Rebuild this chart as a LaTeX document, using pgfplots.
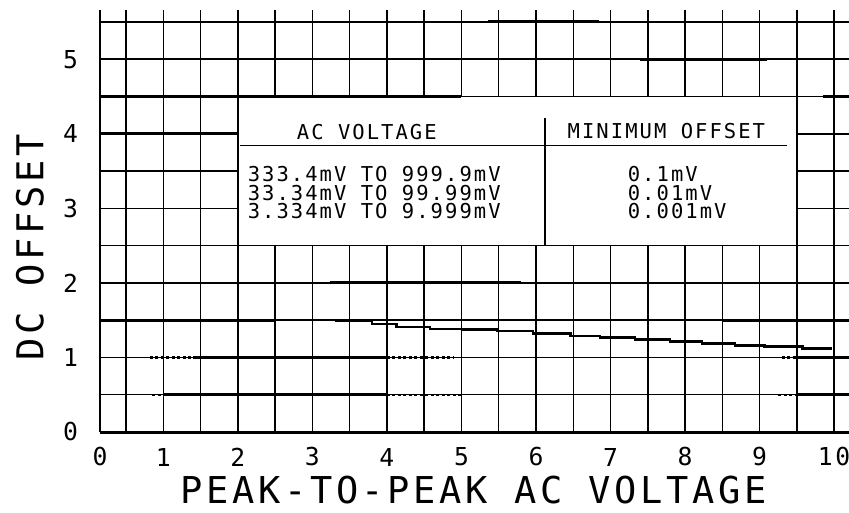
\documentclass[border=0pt]{standalone}
\usepackage{pgfplots}
\pgfplotsset{compat=1.18}
\usepackage{fontspec}
\setmainfont{DejaVu Sans Mono}[LetterSpace=10]
\newcommand{\tickfont}{\fontsize{24.7}{26}\selectfont}
\newcommand{\labfont}{\fontsize{37}{40}\selectfont}
\newcommand{\tabfont}{\fontsize{20.5}{22}\selectfont}
\begin{document}
\begin{tikzpicture}
\begin{axis}[
  scale only axis, width=749pt, height=422pt,
  xmin=0.15, xmax=10.2, ymin=0, ymax=5.66,
  axis lines=left, axis line style={-, line width=2.6pt, black},
  xtick={0.15,1,2,3,4,5,6,7,8,9,10},
  xticklabels={0,1,2,3,4,5,6,7,8,9,10},
  ytick={0,1,2,3,4,5},
  minor xtick={0.5,1.5,2.5,3.5,4.5,5.5,6.5,7.5,8.5,9.5},
  minor ytick={0.5,1.5,2.5,3.5,4.5,5.5},
  grid=both,
  major grid style={black, line width=1.5pt},
  minor grid style={black, line width=1.5pt},
  major tick length=0pt, minor tick length=0pt,
  tick style={draw=none},
  /pgf/number format/assume math mode=true,
  xticklabel style={anchor=center, yshift=-25pt, font=\tickfont},
  yticklabel style={anchor=center, xshift=-29.5pt, font=\tickfont},
  clip=false,
]
\coordinate (BL) at (rel axis cs:0,0);
\coordinate (TR) at (rel axis cs:1,1);
% table area
\fill[white] (axis cs:2,2.5) rectangle (axis cs:9.5,4.5);
\draw[black, line width=1.5pt] (axis cs:2,2.5) rectangle (axis cs:9.5,4.5);
\draw[black, line width=1.6pt] (axis cs:2.03,3.84) -- (axis cs:9.37,3.84);
\draw[black, line width=1.2pt] (axis cs:6.12,4.21) -- (axis cs:6.12,2.5);
\node[font=\tabfont, anchor=center] at (axis cs:3.73,4.02) {AC VOLTAGE};
\node[font=\tabfont, anchor=center] at (axis cs:7.75,4.03) {MINIMUM OFFSET};
\node[font=\tabfont, anchor=west, inner sep=0pt] at (axis cs:2.13,3.456) {333.4mV TO 999.9mV};
\node[font=\tabfont, anchor=west, inner sep=0pt] at (axis cs:2.13,3.208) {33.34mV TO 99.99mV};
\node[font=\tabfont, anchor=west, inner sep=0pt] at (axis cs:2.13,2.96) {3.334mV TO 9.999mV};
\node[font=\tabfont, anchor=west, inner sep=0pt] at (axis cs:7.23,3.456) {0.1mV};
\node[font=\tabfont, anchor=west, inner sep=0pt] at (axis cs:7.23,3.208) {0.01mV};
\node[font=\tabfont, anchor=west, inner sep=0pt] at (axis cs:7.23,2.96) {0.001mV};
% thick segments
\pgfplotsset{thk/.style={black, line width=3pt, forget plot}, dts/.style={black, line width=2.2pt, dash pattern=on 3pt off 2.5pt, forget plot}}
\addplot[thk] coordinates {(0.15,0) (10.2,0)};
\addplot[dts] coordinates {(0.85,0.5) (1.0,0.5)};
\addplot[thk] coordinates {(1.0,0.5) (4.0,0.5)};
\addplot[dts] coordinates {(4.0,0.5) (5.0,0.5)};
\addplot[dts] coordinates {(9.25,0.5) (9.5,0.5)};
\addplot[thk] coordinates {(9.5,0.5) (10.2,0.5)};
\addplot[dts] coordinates {(0.82,1) (1.4,1)};
\addplot[thk] coordinates {(1.4,1) (4.0,1)};
\addplot[dts] coordinates {(4.0,1) (4.9,1)};
\addplot[dts] coordinates {(9.3,1) (9.5,1)};
\addplot[thk] coordinates {(9.5,1) (10.2,1)};
\addplot[thk] coordinates {(0.15,1.5) (2.5,1.5)};
\addplot[thk] coordinates {(8.5,1.5) (10.2,1.5)};
\addplot[black, line width=2.6pt, const plot, forget plot] coordinates {
 (3.3,1.49) (3.8,1.45) (4.13,1.41) (4.58,1.38) (5.02,1.375) (5.48,1.355)
 (5.96,1.32) (6.46,1.29) (6.86,1.265) (7.33,1.24) (7.8,1.21) (8.23,1.185)
 (8.67,1.16) (9.07,1.145) (9.58,1.12) (9.97,1.12)};
\addplot[dts] coordinates {(2.2,2) (3.23,2)};
\addplot[thk] coordinates {(3.23,2) (5.8,2)};
\addplot[thk] coordinates {(0.15,4) (2.0,4)};
\addplot[thk] coordinates {(0.15,4.5) (5.0,4.5)};
\addplot[thk] coordinates {(9.85,4.5) (10.2,4.5)};
\addplot[thk] coordinates {(7.4,5) (9.1,5)};
\addplot[thk] coordinates {(5.35,5.5) (6.85,5.5)};
% axis titles
\node[font=\labfont, anchor=center] at (axis cs:5.16,-0.78) {PEAK-TO-PEAK AC VOLTAGE};
\node[font=\labfont, anchor=center, rotate=90] at (axis cs:-0.79,2.48) {DC OFFSET};
\end{axis}
\pgfresetboundingbox
\path[use as bounding box] ([shift={(-100pt,-80pt)}]BL) rectangle ([shift={(0pt,10pt)}]TR);
\end{tikzpicture}
\end{document}
